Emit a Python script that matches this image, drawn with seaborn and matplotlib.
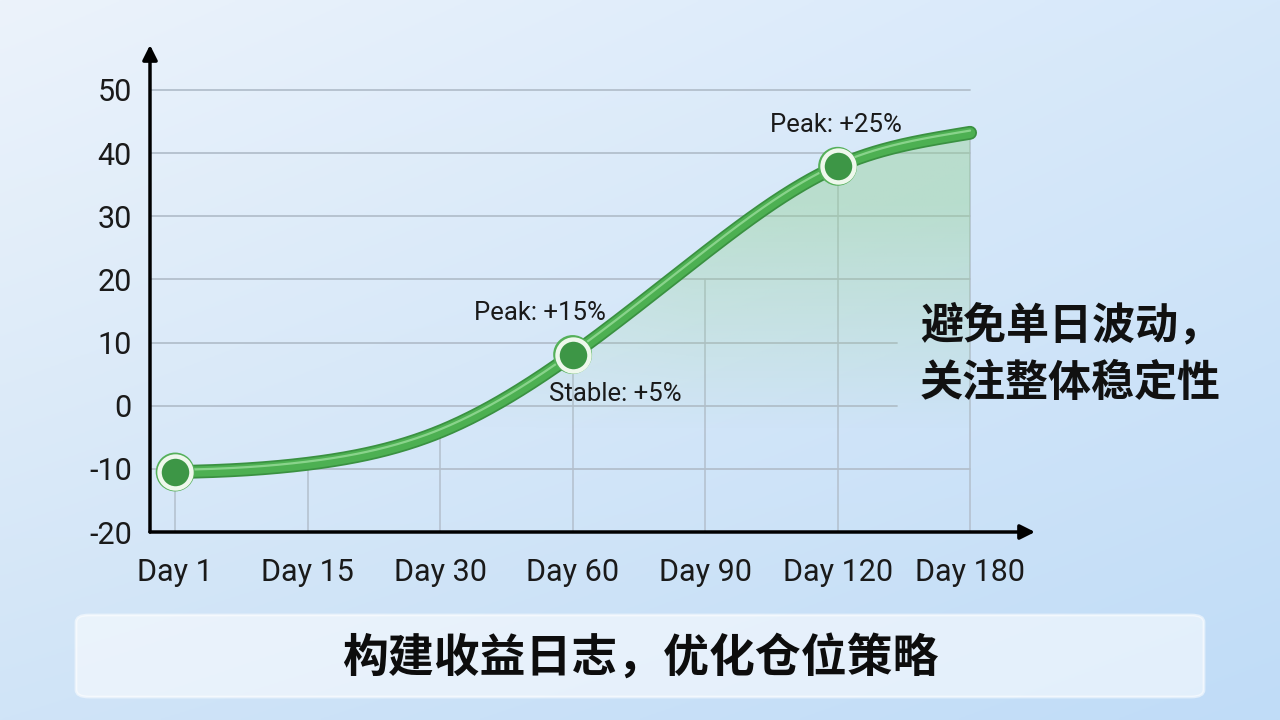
import numpy as np
import matplotlib
matplotlib.use("Agg")
import matplotlib.pyplot as plt
import seaborn as sns
import pandas as pd
from matplotlib.patches import FancyBboxPatch, Polygon
import matplotlib.patheffects as pe

# ---------------- data ----------------
days = ["Day 1", "Day 15", "Day 30", "Day 60", "Day 90", "Day 120", "Day 180"]
returns = [-10.5, -9.2, -4.1, 8.1, 24.2, 37.9, 43.2]
marked_days = ["Day 1", "Day 60", "Day 120"]
y_ticks = [-20, -10, 0, 10, 20, 30, 40, 50]
label_texts = ["Peak: +15%", "Stable: +5%", "Peak: +25%"]
side_lines = ["避免单日波动，", "关注整体稳定性"]
banner_text = "构建收益日志，优化仓位策略"

# ---------------- helpers ----------------
def clamped_spline(x, y, xs, s0, sn):
    """Clamped cubic spline through (x, y), evaluated at xs."""
    x = np.asarray(x, float); y = np.asarray(y, float)
    n = len(x); h = np.diff(x)
    A = np.zeros((n, n)); b = np.zeros(n)
    A[0, 0] = 2 * h[0]; A[0, 1] = h[0]
    b[0] = 3 * ((y[1] - y[0]) / h[0] - s0)
    A[-1, -2] = h[-1]; A[-1, -1] = 2 * h[-1]
    b[-1] = 3 * (sn - (y[-1] - y[-2]) / h[-1])
    for i in range(1, n - 1):
        A[i, i - 1] = h[i - 1]; A[i, i] = 2 * (h[i - 1] + h[i]); A[i, i + 1] = h[i]
        b[i] = 3 * ((y[i + 1] - y[i]) / h[i] - (y[i] - y[i - 1]) / h[i - 1])
    c = np.linalg.solve(A, b)
    out = np.empty(len(xs))
    for j, xv in enumerate(xs):
        k = min(max(np.searchsorted(x, xv) - 1, 0), n - 2)
        t = xv - x[k]
        bk = (y[k + 1] - y[k]) / h[k] - h[k] * (2 * c[k] + c[k + 1]) / 3
        dk = (c[k + 1] - c[k]) / (3 * h[k])
        out[j] = y[k] + bk * t + c[k] * t**2 + dk * t**3
    return out

sns.set_theme(style="white")
plt.rcParams["font.family"] = ["Roboto", "Noto Sans CJK SC", "DejaVu Sans"]

fig = plt.figure(figsize=(12.8, 7.2), dpi=100)

# background gradient
bg = fig.add_axes([0, 0, 1, 1], zorder=-10)
gx, gy = np.meshgrid(np.linspace(0, 1, 256), np.linspace(0, 1, 256))
tl = np.array([236, 243, 251]); tr = np.array([214, 232, 250])
bl = np.array([208, 228, 247]); br = np.array([192, 220, 247])
top = tl[None, None, :] * (1 - gx[..., None]) + tr[None, None, :] * gx[..., None]
bot = bl[None, None, :] * (1 - gx[..., None]) + br[None, None, :] * gx[..., None]
img = (top * (1 - gy[..., None]) + bot * gy[..., None]) / 255.0
bg.imshow(img, extent=[0, 1, 0, 1], aspect="auto", origin="upper")
bg.set_axis_off()

# main axes
ax_left, ax_right = 150 / 1280, 1035 / 1280
ax_bottom, ax_top = (720 - 532) / 720, (720 - 45) / 720
ax = fig.add_axes([ax_left, ax_bottom, ax_right - ax_left, ax_top - ax_bottom])
ax.set_facecolor("none")
xl = (-0.19, 6.49)
yl = (-20, 57.1)

idx = np.arange(len(days))
xs = np.linspace(0, len(days) - 1, 400)
ys = clamped_spline(idx, returns, xs, 0.3, 3.5)

# grid lines
grid_c = "#b3bfcc"
for t in y_ticks[1:]:
    end = 5.45 if t in (0, 10) else 6.0
    ax.plot([xl[0], end], [t, t], color=grid_c, lw=1.3, zorder=0.5)
for i, v in enumerate(returns):
    top_v = min(v, 20) if days[i] == "Day 90" else v
    ax.plot([i, i], [-20, top_v], color=grid_c, lw=1.1, zorder=0.5)

# gradient fill under curve
fx0 = 1.7
sel = xs >= fx0
poly_xy = np.vstack([np.column_stack([xs[sel], ys[sel]]),
                     [[xs[-1], -20], [fx0, -20]]])
poly = Polygon(poly_xy, closed=True, facecolor="none", edgecolor="none",
               transform=ax.transData)
ax.add_patch(poly)
GX, GY = np.meshgrid(np.linspace(xl[0], xl[1], 300), np.linspace(yl[0], yl[1], 300))
alpha = 0.42 * np.clip((GY + 4) / 36, 0, 1) * np.clip((GX - 1.7) / 2.2, 0, 1) ** 0.5
rgba = np.zeros(GX.shape + (4,))
rgba[..., 0] = 145 / 255; rgba[..., 1] = 208 / 255; rgba[..., 2] = 145 / 255
rgba[..., 3] = alpha
im = ax.imshow(rgba, extent=[xl[0], xl[1], yl[0], yl[1]], origin="lower",
               aspect="auto", zorder=1)
im.set_clip_path(poly)

# main curve
curve_df = pd.DataFrame({"x": xs, "y": ys})
sns.lineplot(data=curve_df, x="x", y="y", ax=ax, color="#4db052", lw=7.5,
             zorder=3, solid_capstyle="round",
             path_effects=[pe.Stroke(linewidth=10, foreground="#3a9141"), pe.Normal()])
ax.plot(xs, ys + 0.35, color="#a3e3a4", lw=1.6, alpha=0.7, zorder=3.5,
        solid_capstyle="round")

# markers
mk = pd.DataFrame({"x": [days.index(d) for d in marked_days],
                   "y": [returns[days.index(d)] for d in marked_days]})
sns.scatterplot(data=mk, x="x", y="y", ax=ax, s=28**2, color="#55b05a",
                edgecolor="none", zorder=4, legend=False)
sns.scatterplot(data=mk, x="x", y="y", ax=ax, s=23**2, color="#3d9646",
                edgecolor="#eef8ec", linewidth=3.2, zorder=5, legend=False)

# annotations
ann_pos = [(2.75, 14.6), (3.32, 1.8), (4.99, 44.4)]
for txt, (px, py) in zip(label_texts, ann_pos):
    ax.text(px, py, txt, ha="center", va="center", fontsize=18.5, color="#1a1a1a",
            zorder=6)

ax.set_xlim(*xl)
ax.set_ylim(*yl)
ax.set_xticks(idx)
ax.set_xticklabels(days, fontsize=22, color="#1a1a1a")
ax.set_yticks(y_ticks)
ax.set_yticklabels([str(t) for t in y_ticks], fontsize=22, color="#1a1a1a")
ax.tick_params(axis="both", length=0)
ax.tick_params(axis="x", pad=19)
ax.tick_params(axis="y", pad=13)
ax.set_xlabel(""); ax.set_ylabel("")
for s in ax.spines.values():
    s.set_visible(False)

# axis arrows
ax.annotate("", xy=(0, 1), xytext=(0, 0), xycoords="axes fraction",
            arrowprops=dict(arrowstyle="-|>", color="black", lw=2.5,
                            mutation_scale=22, shrinkA=0, shrinkB=0), zorder=7)
ax.annotate("", xy=(1, 0), xytext=(0, 0), xycoords="axes fraction",
            arrowprops=dict(arrowstyle="-|>", color="black", lw=2.5,
                            mutation_scale=22, shrinkA=0, shrinkB=0), zorder=7)

# right side text
fig.text(920 / 1280, 1 - 325 / 720, side_lines[0], ha="left", va="center",
         fontsize=31, fontweight="bold", color="#111111",
         family=["Noto Sans CJK SC", "DejaVu Sans"])
fig.text(920 / 1280, 1 - 383 / 720, side_lines[1], ha="left", va="center",
         fontsize=31, fontweight="bold", color="#111111",
         family=["Noto Sans CJK SC", "DejaVu Sans"])

# bottom banner
banner = FancyBboxPatch((76 / 1280, 23 / 720), 1128 / 1280, 82 / 720,
                        boxstyle="round,pad=0,rounding_size=0.01",
                        transform=fig.transFigure, facecolor="white", alpha=0.55,
                        edgecolor="white", lw=2, zorder=1)
fig.patches.append(banner)
fig.text(640 / 1280, 1 - 659 / 720, banner_text, ha="center", va="center",
         fontsize=33, fontweight="bold", color="#0d0d0d",
         family=["Noto Sans CJK SC", "DejaVu Sans"])

fig.savefig("out.png", dpi=100)
